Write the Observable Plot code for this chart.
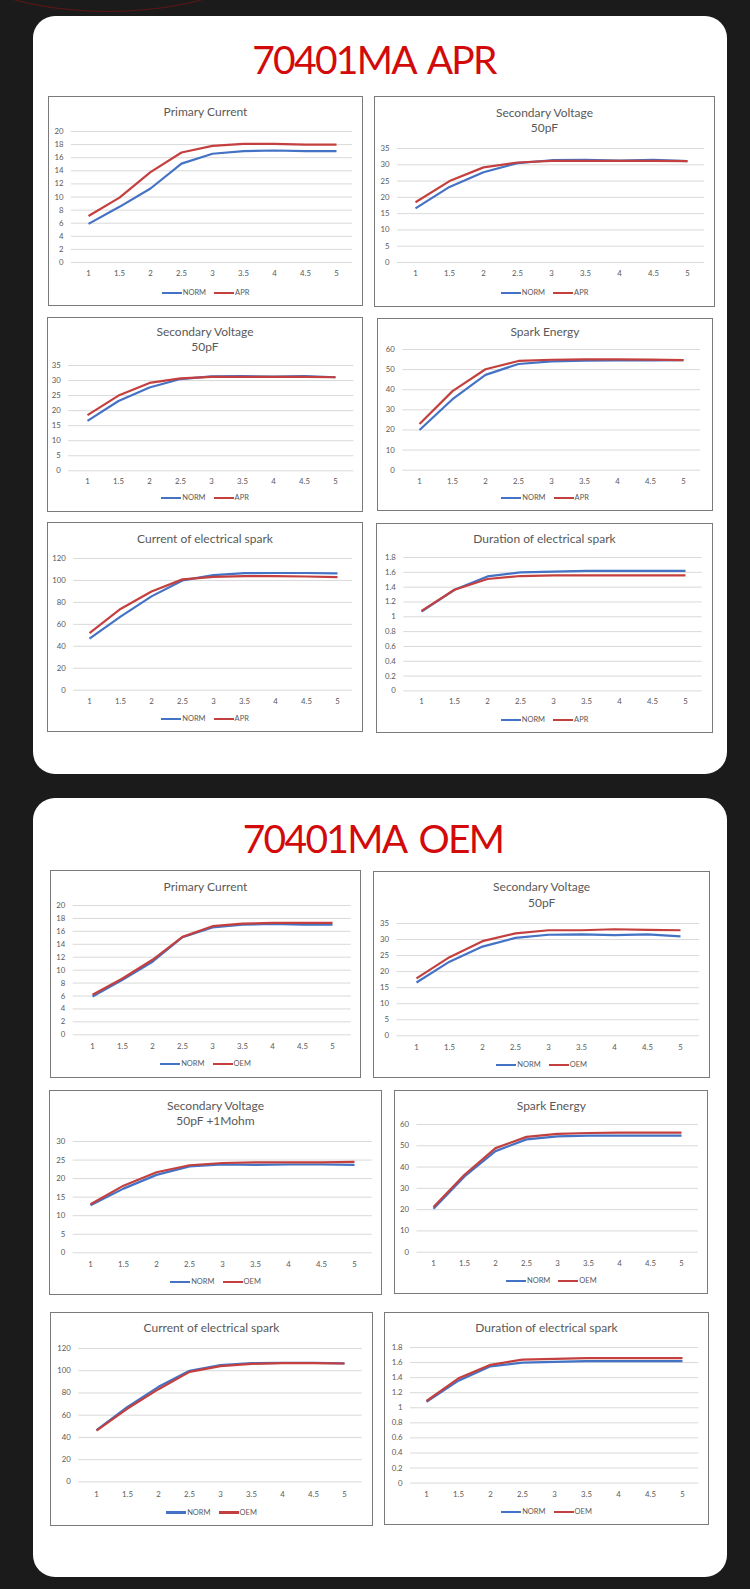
<!DOCTYPE html>
<html>
<head>
<meta charset="utf-8">
<script src="https://cdn.jsdelivr.net/npm/d3@7"></script>
<script src="https://cdn.jsdelivr.net/npm/@observablehq/plot@0.6"></script>
<style>
  html, body { margin: 0; padding: 0; background: #1b1b1b; }
  #page { position: relative; width: 750px; height: 1589px; overflow: hidden; background: #1b1b1b; font-family: Lato, "Open Sans", sans-serif; }
  .abs { position: absolute; }
  .panel { position: absolute; background: #fff; border-radius: 22px; }
  .box { position: absolute; box-sizing: border-box; border: 1px solid #7a7a7a; background: #fff; }
  .ptitle { position: absolute; color: #d20a0a; font-family: Lato, sans-serif; font-size: 39px; line-height: 39px; letter-spacing: -1.7px; word-spacing: 5px; text-align: center; white-space: nowrap; }
  .ctitle { position: absolute; color: #595959; font-family: Lato, sans-serif; font-size: 12px; line-height: 15.5px; text-align: center; white-space: nowrap; }
  .legend { position: absolute; display: flex; justify-content: center; align-items: center; height: 10px; font-family: Lato, sans-serif; font-size: 7.5px; color: #595959; }
  .legend .sw { display: inline-block; width: 20px; height: 2.2px; }
  .legend .lab { margin-left: 1px; margin-right: 8px; line-height: 10px; }
  .legend .lab:last-child { margin-right: 0; }
</style>
</head>
<body>
<div id="page"></div>
<script>
// ---------- data ----------
const xLabels = ["1", "1.5", "2", "2.5", "3", "3.5", "4", "4.5", "5"];
const namesAPR = ["NORM", "APR"];
const namesOEM = ["NORM", "OEM"];

const ticks20 = [0, 2, 4, 6, 8, 10, 12, 14, 16, 18, 20];
const ticks35 = [0, 5, 10, 15, 20, 25, 30, 35];
const ticks30 = [0, 5, 10, 15, 20, 25, 30];
const ticks60 = [0, 10, 20, 30, 40, 50, 60];
const ticks120 = [0, 20, 40, 60, 80, 100, 120];
const ticks18 = [0, 0.2, 0.4, 0.6, 0.8, 1, 1.2, 1.4, 1.6, 1.8];

// 70401MA APR
const aprPrimaryNorm = [5.9, 8.5, 11.3, 15.1, 16.6, 17.0, 17.1, 17.0, 17.0];
const aprPrimaryApr  = [7.1, 9.9, 13.8, 16.8, 17.8, 18.1, 18.1, 18.0, 18.0];
const aprSecVNorm    = [16.6, 23.2, 27.7, 30.5, 31.4, 31.5, 31.3, 31.5, 31.1];
const aprSecVApr     = [18.5, 25.0, 29.2, 30.7, 31.2, 31.2, 31.2, 31.2, 31.1];
const aprSparkNorm   = [20.0, 35.3, 47.4, 52.8, 54.1, 54.5, 54.6, 54.6, 54.7];
const aprSparkApr    = [23.0, 39.3, 50.2, 54.3, 54.9, 55.1, 55.1, 55.0, 54.7];
const aprCurrentNorm = [47, 67, 85.5, 100, 104.8, 106.7, 106.8, 106.8, 106.4];
const aprCurrentApr  = [52, 74, 90, 101, 103.2, 103.9, 103.9, 103.6, 103.0];
const aprDurNorm     = [1.07, 1.365, 1.545, 1.60, 1.61, 1.62, 1.62, 1.62, 1.62];
const aprDurApr      = [1.08, 1.365, 1.51, 1.55, 1.56, 1.56, 1.56, 1.56, 1.56];

// 70401MA OEM
const oemPrimaryNorm = [5.9, 8.5, 11.3, 15.1, 16.6, 17.05, 17.15, 17.05, 17.05];
const oemPrimaryOem  = [6.2, 8.7, 11.6, 15.15, 16.8, 17.2, 17.3, 17.3, 17.3];
const oemSecVNorm    = [16.6, 23.1, 27.8, 30.5, 31.5, 31.6, 31.4, 31.6, 31.0];
const oemSecVOem     = [17.9, 24.5, 29.5, 31.9, 32.9, 32.9, 33.2, 33.0, 32.9];
const oemSecV1MNorm  = [12.8, 17.3, 21.0, 23.3, 23.8, 23.7, 23.8, 23.8, 23.7];
const oemSecV1MOem   = [13.1, 18.1, 21.7, 23.6, 24.2, 24.4, 24.4, 24.4, 24.5];
const oemSparkNorm   = [20.4, 35.6, 47.5, 53.0, 54.4, 54.8, 54.8, 54.8, 54.8];
const oemSparkOem    = [21.2, 36.4, 48.9, 54.2, 55.6, 56.0, 56.2, 56.2, 56.2];
const oemCurrentNorm = [46.5, 67.5, 85.5, 100, 105, 106.8, 107.1, 107.1, 106.6];
const oemCurrentOem  = [46.2, 66, 83.4, 99, 104.1, 106.2, 106.8, 106.8, 106.5];
const oemDurNorm     = [1.08, 1.36, 1.55, 1.60, 1.61, 1.62, 1.62, 1.62, 1.62];
const oemDurOem      = [1.09, 1.39, 1.57, 1.64, 1.65, 1.66, 1.66, 1.66, 1.66];

// ---------- layout / style ----------
const colors = ["#4472c4", "#c4403f"];
const panels = [
  {x: 33, y: 16, w: 694, h: 758, title: "70401MA APR", baseline: 75, cx: 374},
  {x: 33, y: 798, w: 694, h: 779, title: "70401MA OEM", baseline: 854, cx: 373}
];
const charts = [
  {x: 48, y: 96, w: 315, h: 210, title: ["Primary Current"], titleY: 112, yTop: 131, yZero: 262, xLabelY: 273, legendY: 293, gl: 71, gr: 352, ticks: ticks20, series: [aprPrimaryNorm, aprPrimaryApr], names: namesAPR},
  {x: 374, y: 96, w: 341, h: 211, title: ["Secondary Voltage", "50pF"], titleY: 112.8, yTop: 148.3, yZero: 262.3, xLabelY: 273, legendY: 292.7, gl: 397, gr: 704, ticks: ticks35, series: [aprSecVNorm, aprSecVApr], names: namesAPR},
  {x: 47, y: 317, w: 316, h: 195, title: ["Secondary Voltage", "50pF"], titleY: 331.7, yTop: 365, yZero: 470.3, xLabelY: 481, legendY: 498.3, gl: 68.3, gr: 353.3, ticks: ticks35, series: [aprSecVNorm, aprSecVApr], names: namesAPR},
  {x: 377, y: 318, w: 336, h: 193, title: ["Spark Energy"], titleY: 332, yTop: 349.3, yZero: 470, xLabelY: 481, legendY: 497.7, gl: 402.3, gr: 700, ticks: ticks60, series: [aprSparkNorm, aprSparkApr], names: namesAPR},
  {x: 47, y: 522, w: 316, h: 210, title: ["Current of electrical spark"], titleY: 538.5, yTop: 558, yZero: 689.7, xLabelY: 700.7, legendY: 718.7, gl: 73.3, gr: 352.3, ticks: ticks120, series: [aprCurrentNorm, aprCurrentApr], names: namesAPR},
  {x: 376, y: 523, w: 337, h: 210, title: ["Duration of electrical spark"], titleY: 538.8, yTop: 557.3, yZero: 690.7, xLabelY: 701.3, legendY: 719.7, gl: 403.3, gr: 701.7, ticks: ticks18, series: [aprDurNorm, aprDurApr], names: namesAPR},

  {x: 50, y: 870, w: 311, h: 208, title: ["Primary Current"], titleY: 886.7, yTop: 905, yZero: 1034.3, xLabelY: 1045.7, legendY: 1064.3, gl: 72.7, gr: 350.7, ticks: ticks20, series: [oemPrimaryNorm, oemPrimaryOem], names: namesOEM},
  {x: 373.3, y: 870.7, w: 336.7, h: 207.3, title: ["Secondary Voltage", "50pF"], titleY: 887.3, yTop: 922.7, yZero: 1035, xLabelY: 1046.7, legendY: 1065, gl: 396.7, gr: 699.3, ticks: ticks35, series: [oemSecVNorm, oemSecVOem], names: namesOEM},
  {x: 49, y: 1090, w: 333, h: 205, title: ["Secondary Voltage", "50pF +1Mohm"], titleY: 1105.7, yTop: 1141, yZero: 1252.3, xLabelY: 1264, legendY: 1281.7, gl: 72.7, gr: 371.7, ticks: ticks30, series: [oemSecV1MNorm, oemSecV1MOem], names: namesOEM},
  {x: 394.3, y: 1090, w: 314, h: 204, title: ["Spark Energy"], titleY: 1105.7, yTop: 1124, yZero: 1251.7, xLabelY: 1262.7, legendY: 1280.7, gl: 416.7, gr: 698.3, ticks: ticks60, series: [oemSparkNorm, oemSparkOem], names: namesOEM},
  {x: 50, y: 1311.7, w: 323, h: 214.3, title: ["Current of electrical spark"], titleY: 1328.3, yTop: 1348.3, yZero: 1481.7, xLabelY: 1494, legendY: 1512.5, gl: 78.3, gr: 361.7, ticks: ticks120, series: [oemCurrentNorm, oemCurrentOem], names: namesOEM},
  {x: 384, y: 1311.7, w: 325, h: 213.3, title: ["Duration of electrical spark"], titleY: 1328, yTop: 1346.7, yZero: 1482.3, xLabelY: 1493.3, legendY: 1511.7, gl: 410, gr: 698.3, ticks: ticks18, series: [oemDurNorm, oemDurOem], names: namesOEM}
];

// ---------- build ----------
const page = document.getElementById("page");
function el(tag, cls, css) {
  const e = document.createElement(tag);
  if (cls) e.className = cls;
  Object.assign(e.style, css || {});
  page.appendChild(e);
  return e;
}

// decorative arc at the top
el("div", "abs", {left: "-92px", top: "-188px", width: "400px", height: "200px", border: "1px solid #5e1616", borderRadius: "50%", boxSizing: "border-box"});

for (const p of panels) {
  el("div", "panel", {left: p.x + "px", top: p.y + "px", width: p.w + "px", height: p.h + "px"});
  const t = el("div", "ptitle", {left: (p.cx - 200) + "px", width: "400px", top: (p.baseline - 34.6) + "px"});
  t.textContent = p.title;
}

for (const c of charts) {
  el("div", "box", {left: c.x + "px", top: c.y + "px", width: c.w + "px", height: c.h + "px"});

  const t = el("div", "ctitle", {left: c.x + "px", width: c.w + "px", top: (c.titleY - 7.9) + "px"});
  t.innerHTML = c.title.join("<br>");

  const svgTop = c.yTop - 8;
  const svgBottom = c.xLabelY + 9;
  const fontSize = 7.8;
  const data = [];
  c.series.forEach((vals, si) => {
    vals.forEach((v, i) => data.push({x: xLabels[i], v, s: c.names[si]}));
  });
  const chart = Plot.plot({
    width: c.w,
    height: svgBottom - svgTop,
    marginLeft: c.gl - c.x,
    marginRight: c.x + c.w - c.gr,
    marginTop: c.yTop - svgTop,
    marginBottom: svgBottom - c.yZero,
    style: {fontFamily: "Lato, sans-serif", fontSize: fontSize + "px", color: "#595959", background: "transparent", overflow: "visible"},
    x: {type: "point", domain: xLabels, padding: 0.5, axis: null},
    y: {domain: [0, c.ticks[c.ticks.length - 1]], axis: null},
    color: {domain: c.names, range: colors},
    marks: [
      Plot.gridY(c.ticks, {stroke: "#d9d9d9", strokeOpacity: 1, strokeWidth: 1}),
      Plot.axisY(c.ticks, {tickSize: 0, tickPadding: 8, tickFormat: d => String(d), fill: "#595959", label: null}),
      Plot.axisX({tickSize: 0, tickPadding: c.xLabelY - c.yZero - 2.9, fill: "#595959", label: null}),
      Plot.line(data, {x: "x", y: "v", z: "s", stroke: "s", strokeWidth: 2.2, strokeLinejoin: "round", strokeLinecap: "butt"})
    ]
  });
  const wrap = el("div", "abs", {left: c.x + "px", top: svgTop + "px"});
  wrap.appendChild(chart);

  const lg = el("div", "legend", {left: c.x + "px", width: c.w + "px", top: (c.legendY - 5) + "px"});
  c.names.forEach((n, i) => {
    const sw = document.createElement("span");
    sw.className = "sw";
    sw.style.background = colors[i];
    lg.appendChild(sw);
    const lab = document.createElement("span");
    lab.className = "lab";
    lab.textContent = n;
    lg.appendChild(lab);
  });
}
</script>
</body>
</html>
